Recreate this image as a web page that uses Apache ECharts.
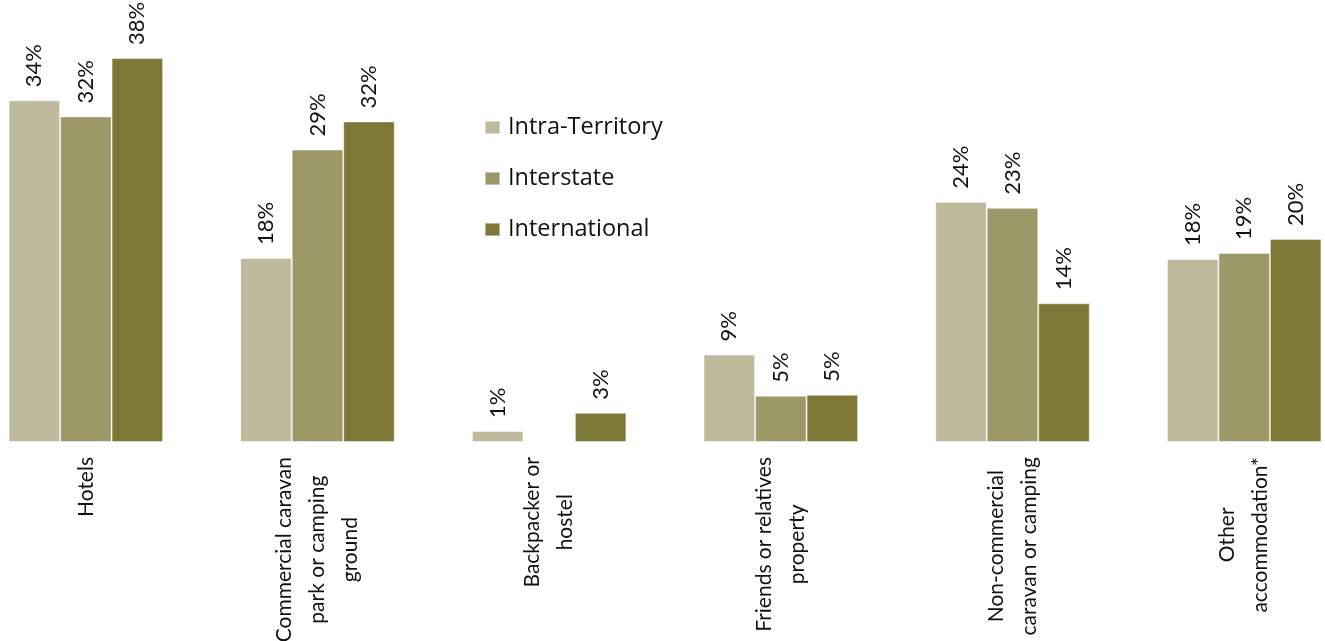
<!DOCTYPE html>
<html>
<head>
<meta charset="utf-8">
<script src="https://cdn.jsdelivr.net/npm/echarts@6/dist/echarts.min.js"></script>
<style>
  html, body { margin: 0; padding: 0; background: #ffffff; }
  #wrap { position: relative; width: 1325px; height: 641px; overflow: hidden; }
  #chart { position: absolute; left: -30px; top: 0; width: 1390px; height: 641px; }
</style>
</head>
<body>
<div id="wrap"><div id="chart"></div></div>
<script>
const categories = [
  "Hotels",
  "Commercial caravan\npark or camping\nground",
  "Backpacker or\nhostel",
  "Friends or relatives\nproperty",
  "Non-commercial\ncaravan or camping",
  "Other\naccommodation*"
];
const seriesNames = ["Intra-Territory", "Interstate", "International"];
const intraTerritory = [34.0, 18.3, 1.1, 8.7, 23.9, 18.2];
const interstate = [32.4, 29.1, null, 4.6, 23.3, 18.8];
const international = [38.2, 31.9, 2.9, 4.7, 13.8, 20.2];
const colors = ["#BFBA9C", "#9C9868", "#7F7735"];

const FONT = "Lato";
const chart = echarts.init(document.getElementById("chart"), null, { renderer: "canvas", width: 1390, height: 641 });

function barSeries(name, data, color) {
  return {
    name: name,
    type: "bar",
    data: data,
    barWidth: 51.5,
    barGap: "0%",
    itemStyle: { color: color, borderColor: "rgba(255,255,255,0.45)", borderWidth: 1 },
    label: {
      show: true,
      position: "top",
      rotate: 90,
      align: "left",
      verticalAlign: "middle",
      distance: 13,
      fontFamily: FONT,
      fontSize: 22,
      color: "#111111",
      formatter: function (p) { return Math.round(p.value) + "%"; }
    }
  };
}

chart.setOption({
  animation: false,
  backgroundColor: "#ffffff",
  grid: { left: 0, right: 0, top: 40, bottom: 199, containLabel: false, outerBoundsMode: "none" },
  legend: {
    orient: "vertical",
    left: 514,
    top: 115,
    padding: 0,
    itemWidth: 15,
    itemHeight: 13,
    itemGap: 26,
    icon: "rect",
    data: seriesNames,
    textStyle: { fontFamily: "Open Sans", fontSize: 23.5, lineHeight: 25, color: "#111111", padding: [0, 0, 0, 3] }
  },
  xAxis: {
    type: "category",
    data: categories,
    axisLine: { show: false },
    axisTick: { show: false },
    axisLabel: {
      interval: 0,
      rotate: 90,
      margin: 15,
      formatter: function (v) {
        return v.split("\n").map(function (l) { return "{c|" + l + "}"; }).join("\n");
      },
      rich: {
        c: { align: "center", fontFamily: FONT, fontSize: 21, lineHeight: 33, color: "#111111" }
      }
    }
  },
  yAxis: {
    type: "value",
    min: 0,
    max: 40,
    show: false,
    splitLine: { show: false }
  },
  series: [
    barSeries(seriesNames[0], intraTerritory, colors[0]),
    barSeries(seriesNames[1], interstate, colors[1]),
    barSeries(seriesNames[2], international, colors[2])
  ]
});
</script>
</body>
</html>
